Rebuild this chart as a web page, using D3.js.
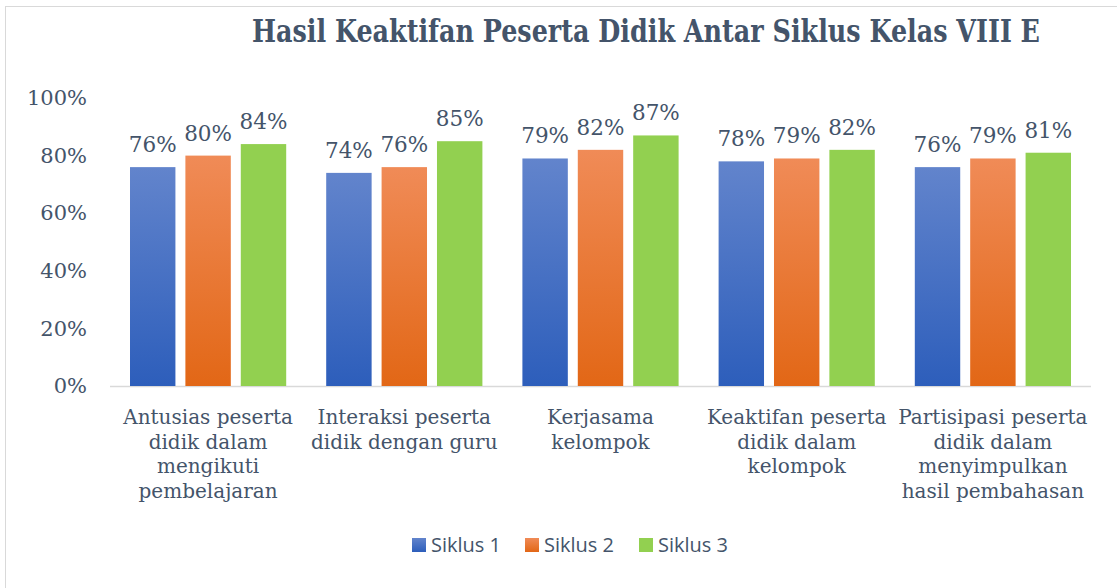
<!DOCTYPE html>
<html>
<head>
<meta charset="utf-8">
<script src="https://cdn.jsdelivr.net/npm/d3@7"></script>
<style>
  body { margin: 0; background: #fff; }
  svg text { fill: #44546A; }
</style>
</head>
<body>
<svg id="chart" width="1117" height="588"></svg>
<script>
// Data
const categories = [
  ['Antusias peserta', 'didik dalam', 'mengikuti', 'pembelajaran'],
  ['Interaksi peserta', 'didik dengan guru'],
  ['Kerjasama', 'kelompok'],
  ['Keaktifan peserta', 'didik dalam', 'kelompok'],
  ['Partisipasi peserta', 'didik dalam', 'menyimpulkan', 'hasil pembahasan']
];
const seriesNames = ['Siklus 1', 'Siklus 2', 'Siklus 3'];
const siklus1 = [0.76, 0.74, 0.79, 0.78, 0.76];
const siklus2 = [0.80, 0.76, 0.82, 0.79, 0.79];
const siklus3 = [0.84, 0.85, 0.87, 0.82, 0.81];
const yTicks = [0, 0.2, 0.4, 0.6, 0.8, 1.0];

const svg = d3.select('#chart');
const width = +svg.attr('width');
const height = +svg.attr('height');

// chart frame
svg.append('rect')
  .attr('x', 5.5).attr('y', 6.5)
  .attr('width', width + 10).attr('height', height + 10)
  .attr('fill', 'none').attr('stroke', '#D9D9D9');

const margin = { left: 110, right: 26, top: 98, bottom: 202 };
const plotW = width - margin.left - margin.right;
const plotH = height - margin.top - margin.bottom;

// gradients
const defs = svg.append('defs');
const grads = [
  ['g0', '#6284CC', '#2D5EBB'],
  ['g1', '#F08B57', '#E26716'],
  ['g2', '#92D050', '#92D050']
];
grads.forEach(([id, top, bottom]) => {
  const lg = defs.append('linearGradient').attr('id', id)
    .attr('x1', 0).attr('y1', 0).attr('x2', 0).attr('y2', 1);
  lg.append('stop').attr('offset', '0%').attr('stop-color', top);
  lg.append('stop').attr('offset', '100%').attr('stop-color', bottom);
});

const g = svg.append('g').attr('transform', `translate(${margin.left},${margin.top})`);

const x0 = d3.scaleBand().domain(d3.range(categories.length)).range([0, plotW]);
const x1 = d3.scaleBand().domain(d3.range(seriesNames.length))
  .range([20, x0.bandwidth() - 20]).paddingInner(0.18);
const y = d3.scaleLinear().domain([0, 1]).range([plotH, 0]);

// y axis labels
const yAxis = d3.axisLeft(y).tickValues(yTicks).tickFormat(d3.format('.0%')).tickSize(0).tickPadding(23);
g.append('g').call(yAxis)
  .call(a => a.select('.domain').remove())
  .selectAll('text')
    .style('font-family', 'DejaVu Serif, serif')
    .style('font-size', '21px')
    .attr('dy', '0.32em');

// baseline
g.append('line')
  .attr('x1', 0).attr('x2', plotW)
  .attr('y1', y(0) + 0.5).attr('y2', y(0) + 0.5)
  .attr('stroke', '#D9D9D9').attr('stroke-width', 1.5);

const series = [siklus1, siklus2, siklus3];
const groups = g.selectAll('.grp').data(categories).enter().append('g')
  .attr('class', 'grp')
  .attr('transform', (d, i) => `translate(${x0(i)},0)`);

groups.each(function(cat, i) {
  const grp = d3.select(this);
  series.forEach((vals, s) => {
    const v = vals[i];
    grp.append('rect')
      .attr('x', x1(s)).attr('width', x1.bandwidth())
      .attr('y', y(v)).attr('height', y(0) - y(v))
      .attr('fill', `url(#g${s})`);
    grp.append('text')
      .attr('x', x1(s) + x1.bandwidth() / 2)
      .attr('y', y(v) - 15)
      .attr('text-anchor', 'middle')
      .style('font-family', 'DejaVu Serif, serif')
      .style('font-size', '21.5px')
      .text(d3.format('.0%')(v));
  });
  const lbl = grp.append('text')
    .attr('text-anchor', 'middle')
    .style('font-family', 'DejaVu Serif, serif')
    .style('font-size', '20px');
  cat.forEach((line, k) => {
    lbl.append('tspan')
      .attr('x', x0.bandwidth() / 2)
      .attr('y', plotH + 38 + k * 24.5)
      .text(line);
  });
});

// title
svg.append('text')
  .attr('x', 646).attr('y', 42)
  .attr('text-anchor', 'middle')
  .style('font-family', 'DejaVu Serif Condensed, DejaVu Serif, serif')
  .style('font-weight', 'bold')
  .style('font-size', '31px')
  .attr('textLength', 788).attr('lengthAdjust', 'spacingAndGlyphs')
  .text('Hasil Keaktifan Peserta Didik Antar Siklus Kelas VIII E');

// legend
const legendX = [412, 525, 639];
const legend = svg.append('g');
seriesNames.forEach((name, s) => {
  legend.append('rect')
    .attr('x', legendX[s]).attr('y', 538)
    .attr('width', 14).attr('height', 14)
    .attr('fill', `url(#g${s})`);
  legend.append('text')
    .attr('x', legendX[s] + 19).attr('y', 552)
    .style('font-family', 'Open Sans, sans-serif')
    .style('font-size', '20px')
    .text(name);
});
</script>
</body>
</html>
